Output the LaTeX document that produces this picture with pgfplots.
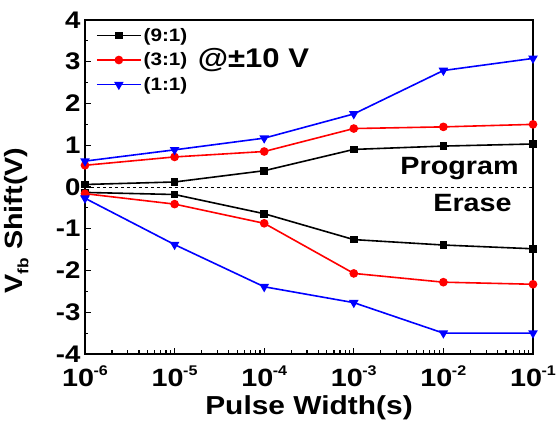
\documentclass[border=0pt]{standalone}
\usepackage{fontspec}
\setmainfont[FakeStretch=1.15]{Liberation Sans}
\usepackage{pgfplots}
\pgfplotsset{compat=1.18}
\newcommand{\ex}[1]{\bfseries\fontsize{25}{25}\selectfont 10\kern-0.5pt\raisebox{0.45em}{\fontsize{14}{14}\selectfont #1}}
\begin{document}
\begin{tikzpicture}
\begin{axis}[
  xmode=log, scale only axis, width=448pt, height=334pt,
  xmin=1e-6, xmax=1e-1, ymin=-4, ymax=4,
  xtick={1e-6,1e-5,1e-4,1e-3,1e-2,1e-1},
  xticklabels={\ex{-6},\ex{-5},\ex{-4},\ex{-3},\ex{-2},\ex{-1}},
  minor xtick={2e-6,3e-6,4e-6,5e-6,6e-6,7e-6,8e-6,9e-6,
               2e-5,3e-5,4e-5,5e-5,6e-5,7e-5,8e-5,9e-5,
               2e-4,3e-4,4e-4,5e-4,6e-4,7e-4,8e-4,9e-4,
               2e-3,3e-3,4e-3,5e-3,6e-3,7e-3,8e-3,9e-3,
               2e-2,3e-2,4e-2,5e-2,6e-2,7e-2,8e-2,9e-2},
  ytick={-4,-3,-2,-1,0,1,2,3,4},
  minor ytick={-3.5,-2.5,-1.5,-0.5,0.5,1.5,2.5,3.5},
  tick align=inside, xtick pos=lower, ytick pos=left,
  major tick length=6pt, minor tick length=3.5pt,
  every tick/.style={black, line width=1.2pt},
  axis line style={line width=1.8pt},
  /pgf/number format/assume math mode=true,
  yticklabel style={font=\bfseries\fontsize{24}{24}\selectfont, xshift=-1pt},
  xticklabel style={yshift=-8pt},
  xlabel={Pulse Width(s)},
  xlabel style={font=\bfseries\fontsize{26}{26}\selectfont, yshift=-2pt},
  ylabel={V\raisebox{-0.25em}{\fontsize{15}{15}\selectfont fb} Shift(V)},
  ylabel style={font=\bfseries\fontsize{25}{25}\selectfont, at={(axis description cs:-0.118,0.40)}, anchor=south},
  legend style={draw=none, fill=none, at={(axis description cs:0.022,0.985)}, anchor=north west,
    font=\bfseries\fontsize{18}{18}\selectfont, row sep=6pt, inner sep=1pt},
  legend cell align=left,
  legend image code/.code={\draw[mark repeat=2,mark phase=2] plot coordinates {(0pt,0pt)(22pt,0pt)(44pt,0pt)};},
]
\coordinate (bl) at (rel axis cs:0,0);
\coordinate (tr) at (rel axis cs:1,1);
\addplot[black, line width=1.6pt, mark=square*, mark size=3pt] coordinates {(1e-6,0.06)(1e-5,0.12)(1e-4,0.39)(1e-3,0.90)(1e-2,0.98)(1e-1,1.03)};
\addlegendentry{(9:1)}
\addplot[red, line width=1.6pt, mark=*, mark size=3.5pt] coordinates {(1e-6,0.52)(1e-5,0.72)(1e-4,0.85)(1e-3,1.40)(1e-2,1.44)(1e-1,1.50)};
\addlegendentry{(3:1)}
\addplot[blue, line width=1.6pt, mark=triangle*, mark size=4pt, every mark/.append style={rotate=180}] coordinates {(1e-6,0.62)(1e-5,0.89)(1e-4,1.17)(1e-3,1.75)(1e-2,2.79)(1e-1,3.08)};
\addlegendentry{(1:1)}
\addplot[black, line width=1.6pt, mark=square*, mark size=3pt, forget plot] coordinates {(1e-6,-0.13)(1e-5,-0.18)(1e-4,-0.64)(1e-3,-1.26)(1e-2,-1.39)(1e-1,-1.48)};
\addplot[red, line width=1.6pt, mark=*, mark size=3.5pt, forget plot] coordinates {(1e-6,-0.16)(1e-5,-0.41)(1e-4,-0.87)(1e-3,-2.07)(1e-2,-2.28)(1e-1,-2.33)};
\addplot[blue, line width=1.6pt, mark=triangle*, mark size=4pt, every mark/.append style={rotate=180}, forget plot] coordinates {(1e-6,-0.27)(1e-5,-1.38)(1e-4,-2.39)(1e-3,-2.77)(1e-2,-3.50)(1e-1,-3.50)};
\addplot[black, line width=0.6pt, dashed, forget plot] coordinates {(1e-6,0)(1e-1,0)};
\node[font=\bfseries\fontsize{27}{27}\selectfont, anchor=west] at (axis description cs:0.244,0.88) {@±10 V};
\node[font=\bfseries\fontsize{25}{25}\selectfont, anchor=east] at (axis description cs:0.976,0.555) {Program};
\node[font=\bfseries\fontsize{25}{25}\selectfont] at (axis description cs:0.865,0.451) {Erase};
\end{axis}
\pgfresetboundingbox
\useasboundingbox ([shift={(-85pt,-75pt)}]bl) rectangle ([shift={(24pt,20pt)}]tr);
\end{tikzpicture}
\end{document}
